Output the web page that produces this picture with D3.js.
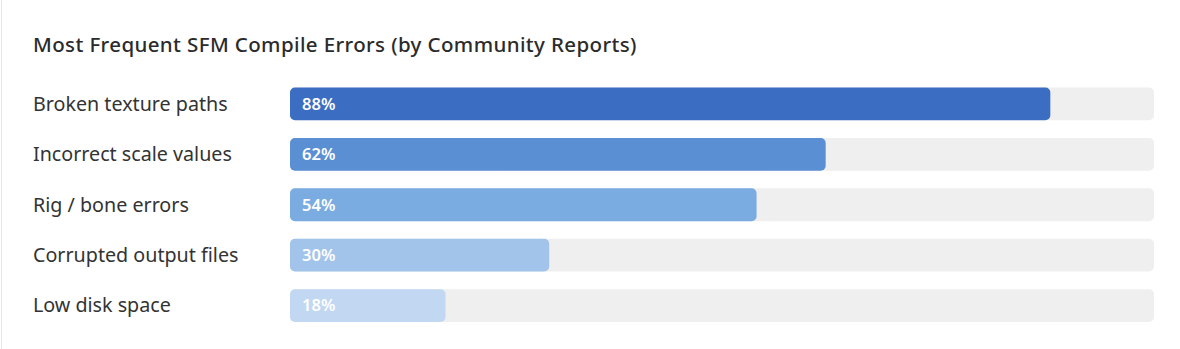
<!DOCTYPE html>
<html><head><meta charset="utf-8">
<script src="https://cdn.jsdelivr.net/npm/d3@7"></script>
<style>
html,body{margin:0;padding:0;background:#fff;}
svg{display:block;}
</style></head>
<body>
<svg id="chart" width="1180" height="349"></svg>
<script>
const title = "Most Frequent SFM Compile Errors (by Community Reports)";
const categories = ["Broken texture paths","Incorrect scale values","Rig / bone errors","Corrupted output files","Low disk space"];
const values = [88, 62, 54, 30, 18];
const colors = ["#3b6dc2","#5a8fd4","#7aabe1","#a3c4ea","#c2d8f2"];

const W = 1180, H = 349;
const svg = d3.select("#chart");
const font = "'Noto Sans', sans-serif";

svg.append("line").attr("x1",1.5).attr("x2",1.5).attr("y1",0).attr("y2",H)
  .attr("stroke","#e6e6e6").attr("stroke-width",1);

svg.append("text").attr("x",33).attr("y",52).text(title)
  .attr("font-family",font).attr("font-size",20.5).attr("font-weight",500).attr("fill","#2b2b2b")
  .attr("letter-spacing",0.38);

const x = d3.scaleLinear().domain([0,100]).range([290,1154]);
const y = d3.scaleBand().domain(categories).range([79.5,330]).paddingInner(0.35).paddingOuter(0.16);

const g = svg.append("g");
const rows = g.selectAll("g.row").data(categories).join("g").attr("class","row");

rows.append("rect").attr("x",x(0)).attr("y",d=>y(d)).attr("width",x(100)-x(0)).attr("height",y.bandwidth())
  .attr("rx",5).attr("fill","#efefef");
rows.append("rect").attr("x",x(0)).attr("y",d=>y(d)).attr("width",(d,i)=>x(values[i])-x(0)).attr("height",y.bandwidth())
  .attr("rx",5).attr("fill",(d,i)=>colors[i]);
rows.append("text").attr("x",33).attr("y",d=>y(d)+y.bandwidth()/2).attr("dy","0.35em").text(d=>d)
  .attr("font-family",font).attr("font-size",19.7).attr("fill","#333");
rows.append("text").attr("x",x(0)+12).attr("y",d=>y(d)+y.bandwidth()/2).attr("dy","0.36em").text((d,i)=>values[i]+"%")
  .attr("font-family",font).attr("font-size",16.5).attr("font-weight",600).attr("fill","#fff");
</script>
</body></html>
